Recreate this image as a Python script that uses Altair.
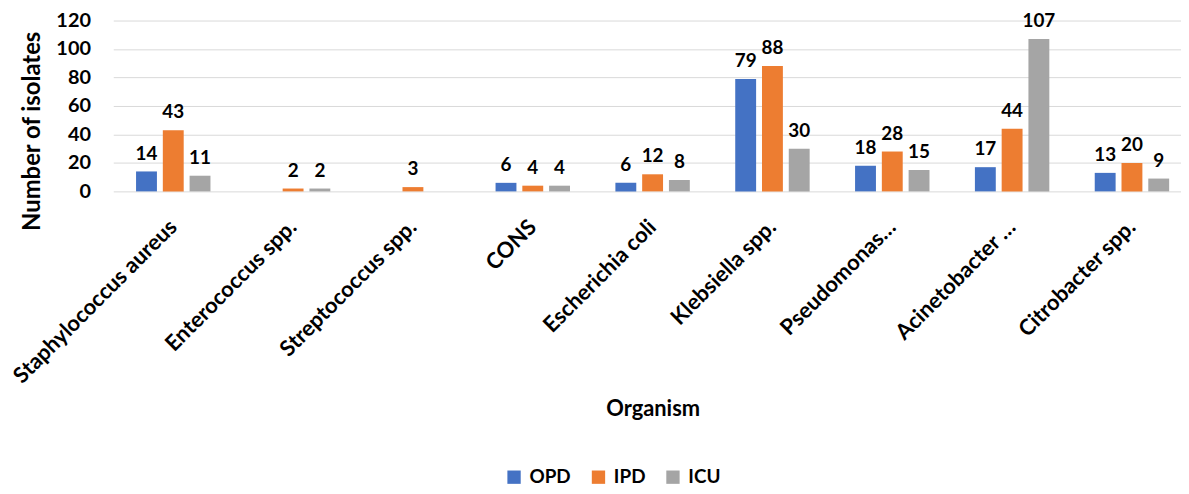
import altair as alt
import pandas as pd

organisms = ["Staphylococcus aureus", "Enterococcus spp.", "Streptococcus spp.", "CONS",
             "Escherichia coli", "Klebsiella spp.", "Pseudomonas…", "Acinetobacter …",
             "Citrobacter spp."]
series = ["OPD", "IPD", "ICU"]
opd = [14, None, None, 6, 6, 79, 18, 17, 13]
ipd = [43, 2, 3, 4, 12, 88, 28, 44, 20]
icu = [11, 2, None, 4, 8, 30, 15, 107, 9]
colors = ["#4472C4", "#ED7D31", "#A5A5A5"]

rows = []
for s, vals in zip(series, [opd, ipd, icu]):
    for o, v in zip(organisms, vals):
        if v is not None:
            rows.append({"Organism": o, "Series": s, "Value": v})
df = pd.DataFrame(rows)

FONT = "Lato"

x = alt.X("Organism:N", sort=organisms, title="Organism",
          scale=alt.Scale(paddingInner=0.379, paddingOuter=0.19, range=[0, 1086]),
          axis=alt.Axis(labelAngle=-45, labelFontSize=22, labelFontWeight="bold",
                        labelColor="#000000", labelPadding=32, labelAlign="right",
                        labelBaseline="middle", ticks=False, domain=False,
                        titleFontSize=22, titleFontWeight="bold", titleColor="#000000",
                        titleX=543, titleY=219, titleBaseline="middle", labelLimit=400))
xo = alt.XOffset("Series:N", sort=series,
                 scale=alt.Scale(domain=series, paddingInner=0.22, paddingOuter=0))
y = alt.Y("Value:Q", title="Number of isolates",
          scale=alt.Scale(domain=[0, 120]),
          axis=alt.Axis(values=[0, 20, 40, 60, 80, 100, 120], labelFontSize=20,
                        labelFontWeight="bold", labelColor="#000000", ticks=False,
                        domain=False, labelPadding=23, gridColor="#D9D9D9",
                        titleFontSize=24, titleFontWeight="bold", titleColor="#000000",
                        titleX=-81, titleY=111, titleAngle=-90, titleBaseline="middle"))
color = alt.Color("Series:N", sort=series,
                  scale=alt.Scale(domain=series, range=colors),
                  legend=alt.Legend(orient="none", direction="horizontal", title=None,
                                    legendX=394, legendY=450, symbolType="square",
                                    symbolSize=180, symbolStrokeWidth=0, padding=0,
                                    labelFontSize=19, labelFontWeight="bold",
                                    labelColor="#000000", columnPadding=18, labelOffset=6))

base = alt.Chart(df)
bars = base.mark_bar().encode(x=x, xOffset=xo, y=y, color=color)
labels = base.mark_text(fontSize=19, fontWeight="bold", color="#000000",
                        baseline="middle", dy=-18).encode(
    x=x, xOffset=xo, y=y, text=alt.Text("Value:Q"))

chart = alt.layer(bars, labels).properties(
    width=1075, height=172,
    autosize=alt.AutoSizeParams(type="none"),
    padding={"left": 106, "top": 11, "right": 0, "bottom": 295},
).configure(font=FONT).configure_view(stroke=None)

chart.save("out.html", embed_options={"renderer": "svg", "actions": False})
